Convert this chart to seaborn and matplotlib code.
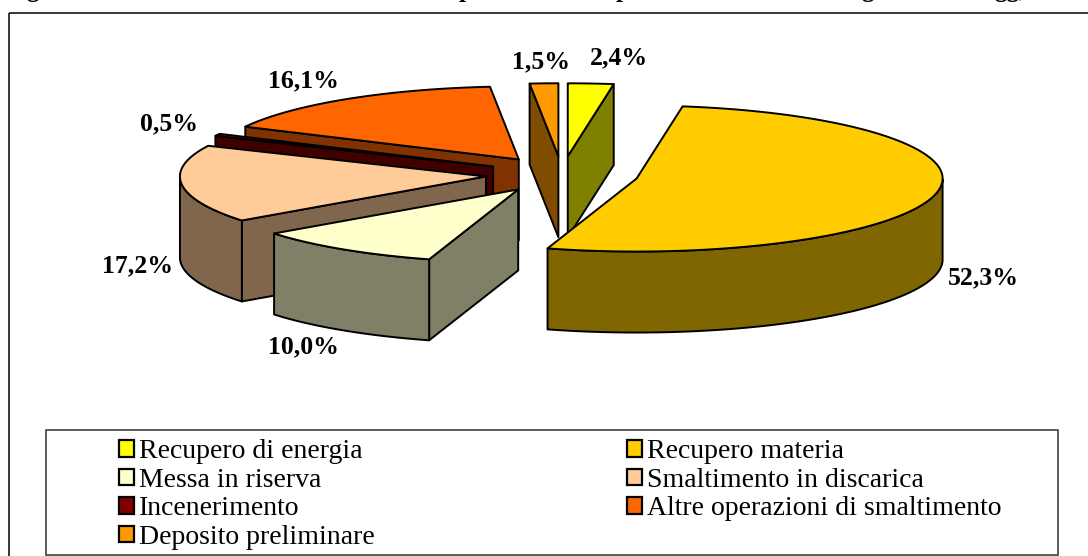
import numpy as np
import seaborn as sns
import matplotlib
matplotlib.use("Agg")
import matplotlib.pyplot as plt
from matplotlib.patches import Patch, Rectangle

categories = ["Recupero di energia", "Recupero materia", "Messa in riserva",
              "Smaltimento in discarica", "Incenerimento",
              "Altre operazioni di smaltimento", "Deposito preliminare"]
values = [2.4, 52.3, 10.0, 17.2, 0.5, 16.1, 1.5]
value_labels = ["2,4%", "52,3%", "10,0%", "17,2%", "0,5%", "16,1%", "1,5%"]
colors = ["#FFFF00", "#FFCC00", "#FFFFCC", "#FFCC99", "#800000", "#FF6600", "#FF9900"]
legend_order = [0, 2, 4, 6, 1, 3, 5]
title_fragments = ["g", "p", "p", "g", "gg,"]

sns.set_theme(style="white")
plt.rcParams["font.family"] = ["Liberation Serif", "DejaVu Serif"]
palette = sns.color_palette(colors)

W, H = 1088, 556
fig = plt.figure(figsize=(W / 100, H / 100), dpi=100, facecolor="white")
ax = fig.add_axes([0, 0, 1, 1])
ax.set_xlim(0, W)
ax.set_ylim(H, 0)
ax.axis("off")

CX, CY, RX, RY, DEPTH, EXPLODE = 562, 174.5, 306, 73, 81, 0.25
LW = 1.4


def pt(c, t, r=1.0):
    t = np.radians(t)
    return c[0] + r * RX * np.cos(t), c[1] - r * RY * np.sin(t)


def poly(xy, face, z):
    xy = np.asarray(xy)
    ax.fill(xy[:, 0], xy[:, 1], facecolor=face, edgecolor="black",
            linewidth=LW, joinstyle="round", zorder=z)


fractions = np.asarray(values) / np.sum(values) * 360
ends = 90 - np.cumsum(fractions)
starts = ends + fractions
paint_order = [5, 4, 3, 6, 0, 2, 1]

for z, i in enumerate(paint_order):
    t0, t1 = starts[i], ends[i]
    mid = np.radians((t0 + t1) / 2)
    c = (CX + EXPLODE * RX * np.cos(mid), CY - EXPLODE * RY * np.sin(mid))
    face = palette[i]
    side = tuple(v * 0.5 for v in face)
    base = z * 10 + 10
    for edge, normal in ((t0, t0 + 90), (t1, t1 - 90)):
        if np.sin(np.radians(normal)) < -1e-6:
            p = pt(c, edge)
            poly([c, p, (p[0], p[1] + DEPTH), (c[0], c[1] + DEPTH)], side, base)
    # outer wall: only the front half of the ellipse can be seen
    ts = np.linspace(t0, t1, 240)
    ts = ts[np.sin(np.radians(ts)) <= 0]
    if len(ts) > 1:
        x, y = pt(c, ts)
        poly(np.r_[np.c_[x, y], np.c_[x, y + DEPTH][::-1]], side, base + 1)
    x, y = pt(c, np.linspace(t0, t1, 240))
    poly(np.r_[[c], np.c_[x, y]], face, base + 2)

label_xy = [(619, 58), (983, 278), (303, 347), (137, 266), (169, 124), (303, 81), (541, 62)]
for (x, y), s in zip(label_xy, value_labels):
    ax.text(x, y, s, ha="center", va="center", fontsize=18.5, fontweight="bold",
            color="black", zorder=200)

# outer chart frame, running off the right and bottom of the picture
ax.add_patch(Rectangle((9, 12.5), W + 20, H + 20, fill=False, edgecolor="black",
                       linewidth=1.1, zorder=1))

# only the descenders of the cropped title remain legible in the picture
for x, s in zip([33, 466, 623, 868, 1010], title_fragments):
    ax.text(x, -3, s, ha="center", va="baseline", fontsize=18, fontweight="bold",
            color="black", clip_on=False)

# legend box
ax.add_patch(Rectangle((46, 430), 1012, 125, facecolor="white", edgecolor="#303030",
                       linewidth=1.1, zorder=250))
handles = [Patch(facecolor=palette[i], edgecolor="black", linewidth=1.6, label=categories[i])
           for i in legend_order]
leg = ax.legend(handles=handles, ncols=2, loc="upper left",
                bbox_to_anchor=(119 / W, 1 - 439.5 / H), borderaxespad=0,
                frameon=False, prop={"family": "Liberation Serif", "size": 20},
                labelcolor="black",
                handlelength=0.54, handleheight=0.54, handletextpad=0.17,
                labelspacing=0.125, columnspacing=9.1, borderpad=0)
leg.set_zorder(300)

fig.savefig("out.png", dpi=100, facecolor="white")
